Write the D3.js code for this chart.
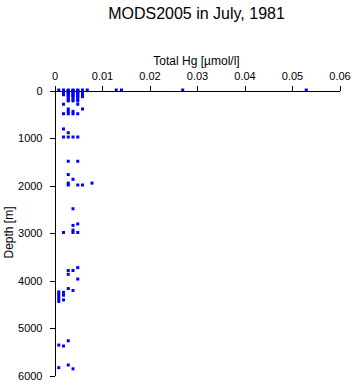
<!DOCTYPE html>
<html>
<head>
<meta charset="utf-8">
<script src="https://cdn.jsdelivr.net/npm/d3@7"></script>
<style>
  body { margin: 0; background: #fff; }
  text { font-family: "Liberation Sans", Arial, sans-serif; }
</style>
</head>
<body>
<script>
// Total Hg [umol/l] and depth [m] of each sample
var hgValues = [
  0.001, 0.002, 0.003, 0.004, 0.005, 0.006, 0.007, 0.0131, 0.0142, 0.0271, 0.0531,
  0.002, 0.002, 0.002, 0.002, 0.002, 0.002,
  0.003, 0.003, 0.003, 0.003, 0.003, 0.003, 0.003, 0.003, 0.003, 0.003,
  0.004, 0.004, 0.004, 0.004, 0.004, 0.004, 0.004, 0.004, 0.004, 0.004,
  0.005, 0.005, 0.005, 0.005, 0.005, 0.005, 0.005, 0.005, 0.005, 0.005,
  0.006, 0.006, 0.006, 0.006, 0.006, 0.006, 0.006,
  0.002, 0.005, 0.003, 0.006, 0.003, 0.004, 0.002, 0.003, 0.004, 0.005,
  0.002, 0.003, 0.002, 0.003, 0.004, 0.005,
  0.003, 0.005, 0.003, 0.004, 0.003, 0.008, 0.003, 0.005, 0.006,
  0.004, 0.005, 0.004, 0.004, 0.002, 0.004, 0.005,
  0.005, 0.003, 0.004, 0.003, 0.005, 0.003, 0.004,
  0.001, 0.001, 0.001, 0.001, 0.001, 0.002, 0.002, 0.002,
  0.003, 0.001, 0.002, 0.003, 0.001, 0.004
];
var depthValues = [
  0, 0, 0, 0, 0, 0, 0, 0, 0, 0, 0,
  10, 20, 30, 50, 75, 100,
  10, 20, 30, 50, 75, 100, 125, 150, 200, 230,
  10, 20, 30, 50, 75, 100, 125, 150, 200, 230,
  10, 20, 30, 50, 75, 100, 125, 150, 200, 230,
  10, 20, 30, 50, 75, 100, 140,
  300, 300, 400, 400, 450, 450, 500, 500, 500, 500,
  820, 900, 990, 990, 990, 990,
  1500, 1500, 1780, 1880, 1960, 1960, 2000, 2000, 2000,
  2500, 2820, 2850, 2950, 3000, 3000, 3000,
  3740, 3800, 3800, 3880, 3980, 4180, 4220,
  4250, 4300, 4350, 4400, 4450, 4260, 4320, 4420,
  5280, 5370, 5390, 5790, 5845, 5870
];
var xTicks = [0, 0.01, 0.02, 0.03, 0.04, 0.05, 0.06];
var yTicks = [0, 1000, 2000, 3000, 4000, 5000, 6000];

var samples = hgValues.map(function(v, i) { return { hg: v, depth: depthValues[i] }; });

var width = 353, height = 384;
var margin = { left: 54, top: 90, right: 14, bottom: 9 };

var svg = d3.select('body').append('svg')
            .attr('width', width)
            .attr('height', height);

var x = d3.scaleLinear().domain([0, 0.06]).range([margin.left, width - margin.right]);
var y = d3.scaleLinear().domain([0, 6000]).range([margin.top, height - margin.bottom]);

var xAxis = svg.append('g')
               .attr('transform', 'translate(0.5,' + (margin.top + 0.5) + ')')
               .call(d3.axisTop(x).tickValues(xTicks).tickSize(5).tickSizeOuter(0)
                       .tickFormat(function(d) { return d === 0 ? '0' : d3.format('.2f')(d); }));

var yAxis = svg.append('g')
               .attr('transform', 'translate(' + (margin.left + 0.5) + ',0.5)')
               .call(d3.axisLeft(y).tickValues(yTicks).tickSize(5).tickSizeOuter(0).tickFormat(d3.format('d')));

svg.selectAll('.domain, .tick line').attr('stroke', '#000').attr('shape-rendering', 'crispEdges');
svg.selectAll('.tick text').attr('font-size', 11).attr('fill', '#000')
   .attr('font-family', '"Liberation Sans", Arial, sans-serif');
xAxis.selectAll('.tick text').attr('dy', '-0.2em');
yAxis.selectAll('.tick text').attr('x', -12);

svg.selectAll('rect.pt').data(samples).enter().append('rect')
   .attr('class', 'pt')
   .attr('x', function(d) { return x(d.hg) - 1.5; })
   .attr('y', function(d) { return y(d.depth) - 1.5; })
   .attr('width', 3)
   .attr('height', 3)
   .style('fill', '#0000ff');

svg.append('text')
   .attr('x', (x(0) + x(0.06)) / 2)
   .attr('y', 19)
   .attr('text-anchor', 'middle')
   .attr('font-size', 16)
   .text('MODS2005 in July, 1981');

svg.append('text')
   .attr('x', (x(0) + x(0.06)) / 2)
   .attr('y', 65)
   .attr('text-anchor', 'middle')
   .attr('font-size', 12)
   .text('Total Hg [\u00b5mol/l]');

svg.append('text')
   .attr('transform', 'translate(13,' + (y(0) + y(6000)) / 2 + ') rotate(-90)')
   .attr('text-anchor', 'middle')
   .attr('font-size', 12)
   .text('Depth [m]');
</script>
</body>
</html>
